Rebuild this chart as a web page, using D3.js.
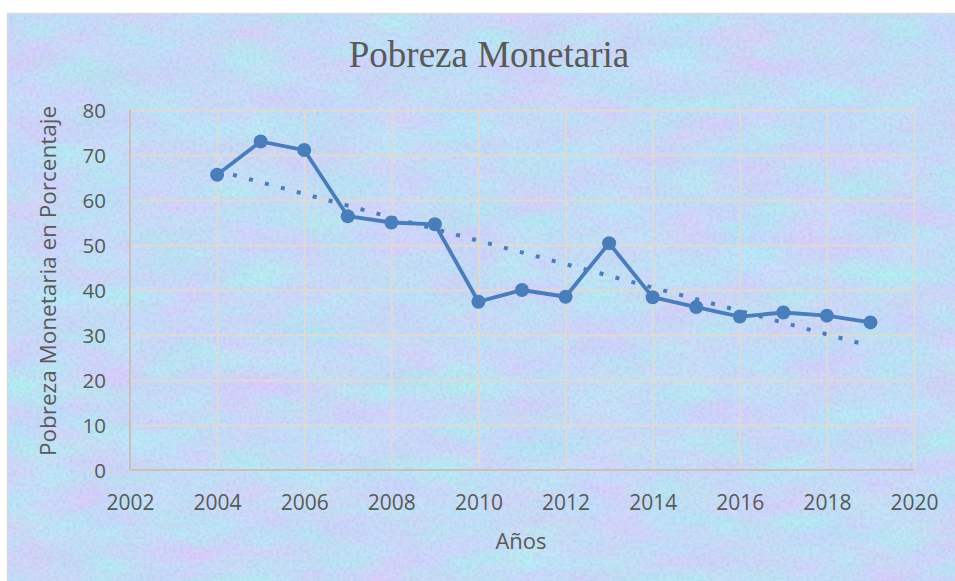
<!DOCTYPE html>
<html>
<head>
<meta charset="utf-8">
<script src="https://cdn.jsdelivr.net/npm/d3@7/dist/d3.min.js"></script>
<style>
  html, body { margin: 0; padding: 0; background: #ffffff; }
  svg { display: block; }
</style>
</head>
<body>
<svg id="chart" width="955" height="581"></svg>
<script>
// ---- data ----
const years  = [2004, 2005, 2006, 2007, 2008, 2009, 2010, 2011, 2012, 2013, 2014, 2015, 2016, 2017, 2018, 2019];
const values = [65.6, 73.0, 71.1, 56.4, 55.0, 54.6, 37.4, 40.0, 38.5, 50.4, 38.4, 36.2, 34.1, 35.0, 34.3, 32.8];
const xTicks = [2002, 2004, 2006, 2008, 2010, 2012, 2014, 2016, 2018, 2020];
const yTicks = [0, 10, 20, 30, 40, 50, 60, 70, 80];
const title = "Pobreza Monetaria";
const xTitle = "Años";
const yTitle = "Pobreza Monetaria en Porcentaje";

const W = 955, H = 581;
const plot = { left: 130, right: 914, top: 110, bottom: 470 };

const svg = d3.select("#chart");
const defs = svg.append("defs");

// textured background
const f = defs.append("filter").attr("id", "tex")
  .attr("x", 0).attr("y", 0).attr("width", "100%").attr("height", "100%")
  .attr("color-interpolation-filters", "sRGB");
f.append("feTurbulence").attr("type", "fractalNoise")
  .attr("baseFrequency", "0.014 0.035").attr("numOctaves", 4).attr("seed", 7).attr("result", "n");
f.append("feColorMatrix").attr("in", "n").attr("type", "matrix")
  .attr("values", "0.22 0 0 0 0.67  -0.16 0.06 0 0 0.92  0.05 0 0.05 0 0.92  0 0 0 0 1")
  .attr("result", "c");
f.append("feTurbulence").attr("type", "fractalNoise")
  .attr("baseFrequency", "0.3").attr("numOctaves", 2).attr("seed", 3).attr("result", "g");
f.append("feColorMatrix").attr("in", "g").attr("type", "matrix")
  .attr("values", "0 0 0 0 0.6  0 0 0 0 0.68  0 0 0 0 0.88  0 0 0 -0.5 0.32")
  .attr("result", "gc");
f.append("feComposite").attr("in", "gc").attr("in2", "c").attr("operator", "over");

svg.append("rect").attr("x", 7).attr("y", 13).attr("width", W - 7).attr("height", H - 13)
  .attr("fill", "#cfdcf6");
svg.append("rect").attr("x", 7).attr("y", 13).attr("width", W - 7).attr("height", H - 13)
  .attr("filter", "url(#tex)");
svg.append("rect").attr("x", 7.5).attr("y", 13.5).attr("width", W - 6).attr("height", H - 12)
  .attr("fill", "none").attr("stroke", "#d9d9d9").attr("stroke-width", 1.5);

// scales
const x = d3.scaleLinear().domain([2002, 2020]).range([plot.left, plot.right]);
const y = d3.scaleLinear().domain([0, 80]).range([plot.bottom, plot.top]);

// gridlines
const g = svg.append("g");
g.append("g").attr("transform", `translate(0,${plot.bottom})`)
  .call(d3.axisBottom(x).tickValues(xTicks).tickSize(-(plot.bottom - plot.top)).tickFormat(""))
  .call(s => s.select(".domain").remove())
  .call(s => s.selectAll("line").attr("stroke", "#dedad6").attr("stroke-width", 1.8));
g.append("g").attr("transform", `translate(${plot.left},0)`)
  .call(d3.axisLeft(y).tickValues(yTicks).tickSize(-(plot.right - plot.left)).tickFormat(""))
  .call(s => s.select(".domain").remove())
  .call(s => s.selectAll("line").attr("stroke", "#dedad6").attr("stroke-width", 1.8));

// axis lines
svg.append("line").attr("x1", plot.left).attr("x2", plot.right).attr("y1", plot.bottom).attr("y2", plot.bottom)
  .attr("stroke", "#c4c2c0").attr("stroke-width", 2);
svg.append("line").attr("x1", plot.left).attr("x2", plot.left).attr("y1", plot.top).attr("y2", plot.bottom)
  .attr("stroke", "#c4c2c0").attr("stroke-width", 2);

// tick labels
const font = "'Open Sans', 'Liberation Sans', sans-serif";
const xa = svg.append("g").attr("transform", `translate(0,${plot.bottom})`)
  .call(d3.axisBottom(x).tickValues(xTicks).tickSize(0).tickPadding(0).tickFormat(d3.format("d")));
xa.select(".domain").remove();
xa.selectAll("text").attr("y", 40).attr("dy", 0).attr("fill", "#595959")
  .style("font-family", font).style("font-size", "21px");

const ya = svg.append("g").attr("transform", `translate(${plot.left},0)`)
  .call(d3.axisLeft(y).tickValues(yTicks).tickSize(0).tickPadding(0));
ya.select(".domain").remove();
ya.selectAll("text").attr("x", -24).attr("dy", "0.36em").attr("fill", "#595959")
  .style("font-family", font).style("font-size", "20.5px");

// titles
svg.append("text").attr("x", 489).attr("y", 67).attr("text-anchor", "middle")
  .attr("fill", "#595959").style("font-family", "'Liberation Serif', 'Times New Roman', serif")
  .style("font-size", "37px").text(title);
svg.append("text").attr("x", 521).attr("y", 549).attr("text-anchor", "middle")
  .attr("fill", "#595959").style("font-family", font).style("font-size", "22px").text(xTitle);
svg.append("text").attr("transform", "translate(56,281) rotate(-90)").attr("text-anchor", "middle")
  .attr("fill", "#595959").style("font-family", font).style("font-size", "22.5px").text(yTitle);

// linear trend (least squares fit of the series)
const n = years.length;
const mx = d3.mean(years), my = d3.mean(values);
const slope = d3.sum(years.map((yr, i) => (yr - mx) * (values[i] - my))) / d3.sum(years.map(yr => (yr - mx) ** 2));
const icpt = my - slope * mx;
const trendYears = [years[0], years[n - 1]];
svg.append("path")
  .attr("d", d3.line().x(d => x(d)).y(d => y(icpt + slope * d))(trendYears))
  .attr("fill", "none").attr("stroke", "#4a7ebb").attr("stroke-width", 4)
  .attr("stroke-dasharray", "4 12.5");

// series line
const data = years.map((yr, i) => ({ yr, v: values[i] }));
svg.append("path")
  .attr("d", d3.line().x(d => x(d.yr)).y(d => y(d.v))(data))
  .attr("fill", "none").attr("stroke", "#4a7ebb").attr("stroke-width", 3.8)
  .attr("stroke-linejoin", "round");
svg.append("g").selectAll("circle").data(data).join("circle")
  .attr("cx", d => x(d.yr)).attr("cy", d => y(d.v)).attr("r", 7)
  .attr("fill", "#4a7ebb");
</script>
</body>
</html>
